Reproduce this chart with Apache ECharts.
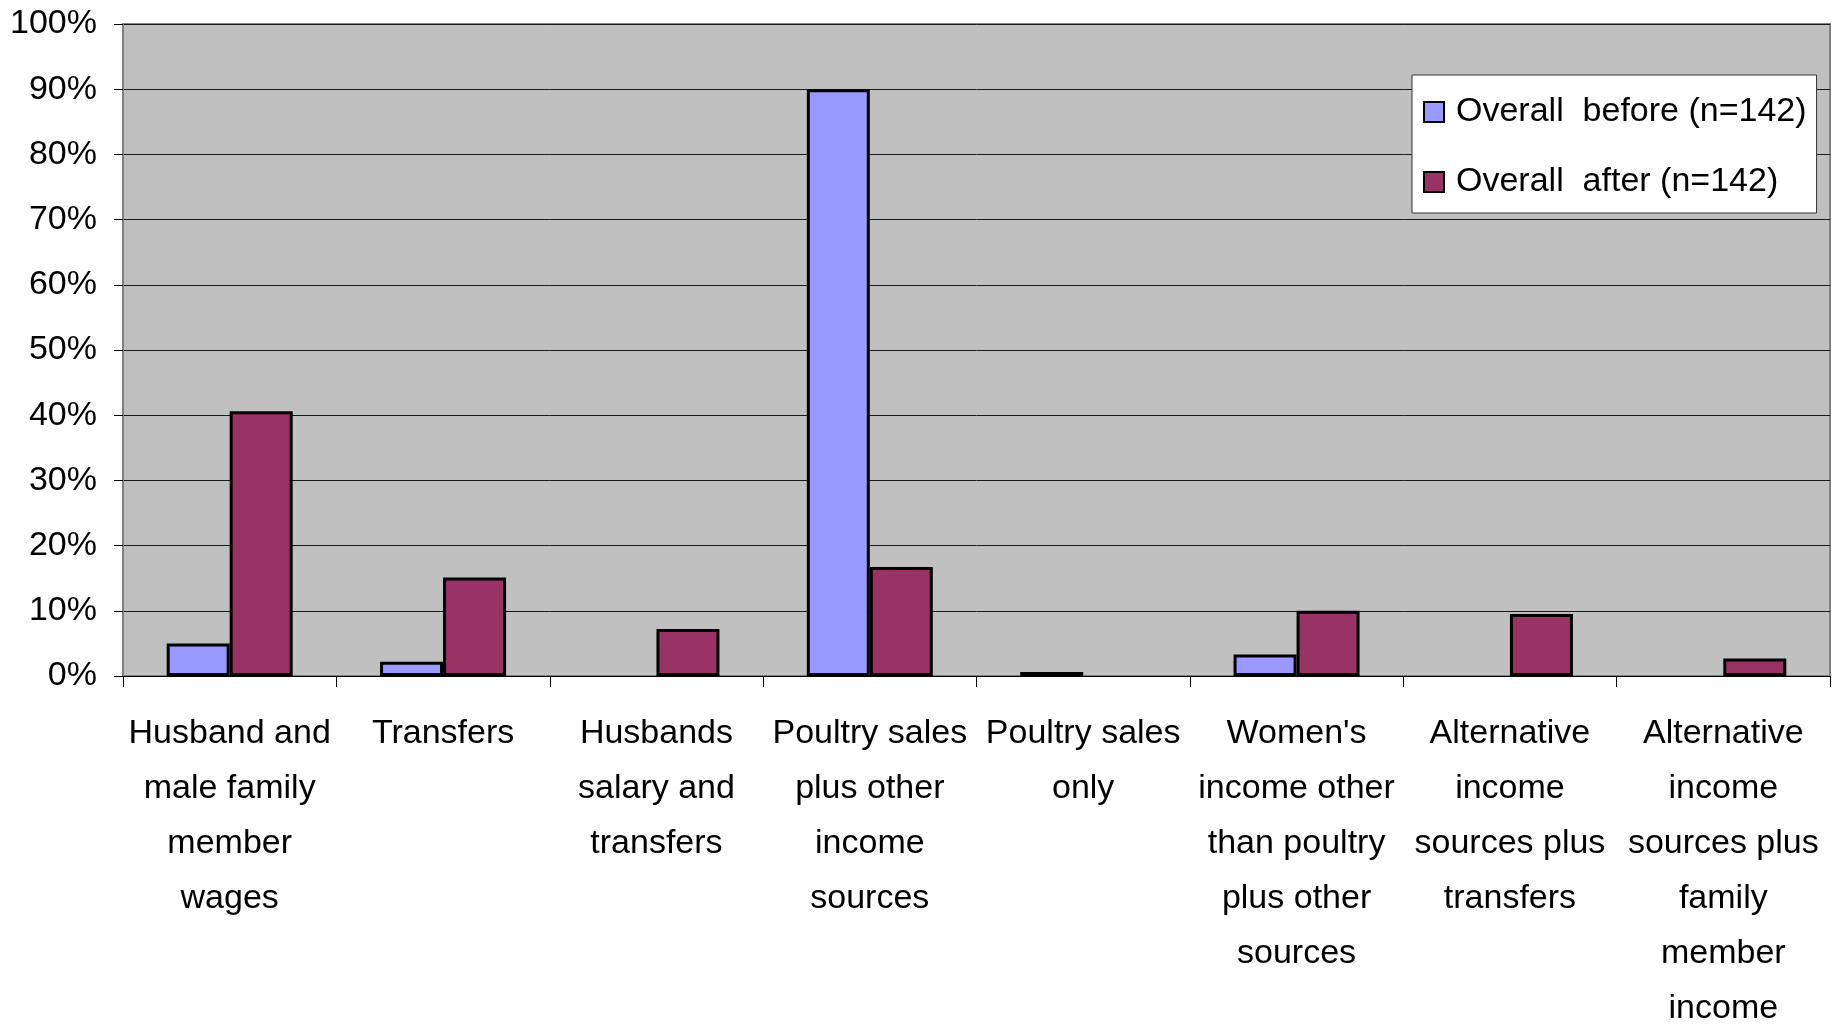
<!DOCTYPE html>
<html>
<head>
<meta charset="utf-8">
<script src="https://cdn.jsdelivr.net/npm/echarts@6/dist/echarts.min.js"></script>
<style>
html,body{margin:0;padding:0;background:#fff;}
#chart{width:1841px;height:1025px;}
</style>
</head>
<body>
<div id="chart"></div>
<script>
const categories = [
  "Husband and\nmale family\nmember\nwages",
  "Transfers",
  "Husbands\nsalary and\ntransfers",
  "Poultry sales\nplus other\nincome\nsources",
  "Poultry sales\nonly",
  "Women's\nincome other\nthan poultry\nplus other\nsources",
  "Alternative\nincome\nsources plus\ntransfers",
  "Alternative\nincome\nsources plus\nfamily\nmember\nincome"
];
const seriesNames = ["Overall  before (n=142)", "Overall  after (n=142)"];
const beforeValues = [5.0, 2.2, null, 90.0, 0.6, 3.3, null, null];
const afterValues = [40.6, 15.1, 7.2, 16.7, null, 10.0, 9.5, 2.7];
const yTicks = [0, 10, 20, 30, 40, 50, 60, 70, 80, 90, 100];

const FONT = "'Liberation Sans', Arial, sans-serif";
const chart = echarts.init(document.getElementById('chart'), null, {renderer: 'canvas'});
chart.setOption({
  animation: false,
  backgroundColor: '#ffffff',
  grid: {
    left: 123, right: 11, top: 24, bottom: 349,
    containLabel: false, outerBoundsMode: 'none',
    show: true, backgroundColor: '#c0c0c0', borderColor: '#808080', borderWidth: 2
  },
  legend: {
    orient: 'vertical',
    left: 1412, top: 75,
    backgroundColor: '#ffffff',
    borderColor: '#333333', borderWidth: 1,
    padding: [17, 10, 11, 11],
    itemWidth: 20, itemHeight: 20, itemGap: 30,
    icon: 'rect',
    itemStyle: {borderColor: '#000', borderWidth: 2},
    textStyle: {fontFamily: FONT, fontSize: 34, color: '#000', lineHeight: 40, padding: [0, 0, 0, 7]},
    data: seriesNames
  },
  xAxis: {
    type: 'category',
    data: categories,
    axisLine: {show: true, lineStyle: {color: '#000', width: 1}},
    axisTick: {show: true, alignWithLabel: false, length: 11, lineStyle: {color: '#000'}},
    axisLabel: {interval: 0, margin: 30, fontFamily: FONT, fontSize: 34, lineHeight: 55, color: '#000', align: 'center'},
    splitLine: {show: false}
  },
  yAxis: {
    type: 'value',
    min: 0, max: 100, interval: 10,
    axisLine: {show: true, lineStyle: {color: '#808080', width: 2}},
    axisTick: {show: true, length: 9, lineStyle: {color: '#000'}},
    axisLabel: {
      margin: 26, fontFamily: FONT, fontSize: 34, color: '#000',
      formatter: function (v) { return yTicks.indexOf(v) >= 0 ? v + '%' : ''; }
    },
    splitLine: {show: true, lineStyle: {color: '#1a1a1a', width: 1}}
  },
  series: [
    {
      name: seriesNames[0], type: 'bar', data: beforeValues,
      barWidth: 63, barGap: '0%',
      itemStyle: {color: '#9999ff', borderColor: '#000', borderWidth: 3}
    },
    {
      name: seriesNames[1], type: 'bar', data: afterValues,
      barWidth: 63, barGap: '0%',
      itemStyle: {color: '#993366', borderColor: '#000', borderWidth: 3}
    }
  ]
});
</script>
</body>
</html>
